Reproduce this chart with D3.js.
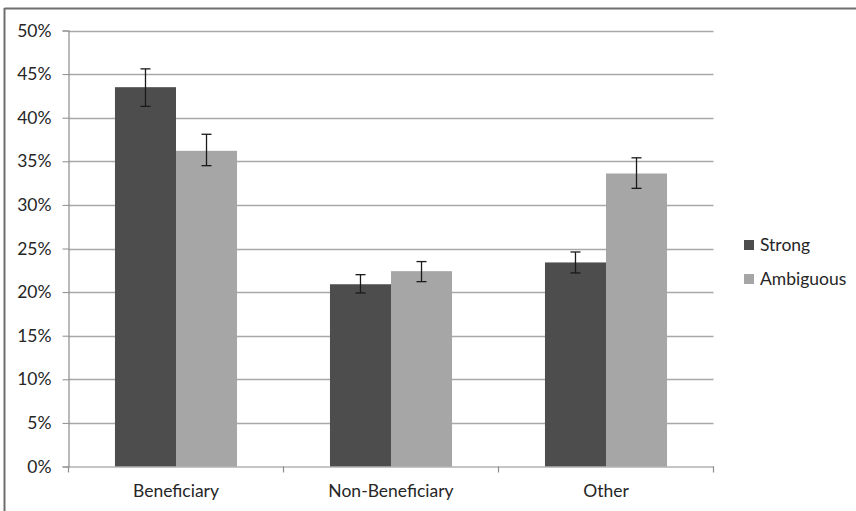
<!DOCTYPE html>
<html><head><meta charset="utf-8">
<script src="https://cdn.jsdelivr.net/npm/d3@7"></script>
<style>
html,body{margin:0;padding:0;background:#fff;}
svg text{font-family:Lato,"Open Sans",sans-serif;fill:#262626;}
</style></head>
<body><svg id="chart" width="856" height="511"></svg>
<script>
const categories = ["Beneficiary", "Non-Beneficiary", "Other"];
const seriesNames = ["Strong", "Ambiguous"];
const strongValues = [43.5, 20.9, 23.4];
const strongLow = [41.3, 19.9, 22.2];
const strongHigh = [45.6, 22.0, 24.6];
const ambiguousValues = [36.2, 22.4, 33.6];
const ambiguousLow = [34.5, 21.2, 31.9];
const ambiguousHigh = [38.1, 23.5, 35.4];
const yTicks = [0, 5, 10, 15, 20, 25, 30, 35, 40, 45, 50];
const colors = ["#4d4d4d", "#a6a6a6"];

(function () {
const svg = d3.select("#chart");
const pLeft = 68.5, pRight = 713.5, pTop = 30.5, pBottom = 466.5;
const fs = 17.5;

// frame
svg.append("line").attr("x1", 4.5).attr("x2", 856).attr("y1", 8.5).attr("y2", 8.5)
  .attr("stroke", "#6e6e6e").attr("stroke-width", 2);
svg.append("line").attr("x1", 4.5).attr("x2", 4.5).attr("y1", 8).attr("y2", 511)
  .attr("stroke", "#6e6e6e").attr("stroke-width", 2);

const x0 = d3.scaleBand().domain(categories).range([pLeft, pRight]).paddingInner(0).paddingOuter(0);
const x1 = d3.scaleBand().domain(seriesNames).range([0, x0.bandwidth()]).paddingInner(0).paddingOuter(0.5 * (214.9 - 122) / 61);
const y = d3.scaleLinear().domain([0, 50]).range([pBottom, pTop]);

// gridlines
svg.append("g").selectAll("line").data(yTicks.filter(d => d > 0)).join("line")
  .attr("x1", pLeft).attr("x2", pRight)
  .attr("y1", d => Math.round(y(d)) + 0.5).attr("y2", d => Math.round(y(d)) + 0.5)
  .attr("stroke", "#a8a8a8").attr("stroke-width", 1.5);

// y axis
const yAxis = svg.append("g").attr("transform", `translate(${pLeft},0)`)
  .call(d3.axisLeft(y).tickValues(yTicks).tickFormat(d => d + "%").tickSize(6).tickPadding(11));
yAxis.select(".domain").attr("stroke", "#8c8c8c").attr("stroke-width", 1.2);
yAxis.selectAll(".tick line").attr("stroke", "#8c8c8c");
yAxis.selectAll(".tick text").attr("font-size", fs).attr("fill", "#262626")
  .style("font-family", "Lato, 'Open Sans', sans-serif");

// bars
const data = categories.map((c, i) => ({
  cat: c,
  vals: [
    {s: "Strong", v: strongValues[i], lo: strongLow[i], hi: strongHigh[i]},
    {s: "Ambiguous", v: ambiguousValues[i], lo: ambiguousLow[i], hi: ambiguousHigh[i]}
  ]
}));
const groups = svg.append("g").selectAll("g").data(data).join("g")
  .attr("transform", d => `translate(${x0(d.cat)},0)`);
groups.selectAll("rect").data(d => d.vals).join("rect")
  .attr("x", d => x1(d.s)).attr("width", x1.bandwidth())
  .attr("y", d => y(d.v)).attr("height", d => y(0) - y(d.v))
  .attr("fill", (d, i) => colors[i]);

// error bars
const eb = groups.selectAll("g.eb").data(d => d.vals).join("g").attr("class", "eb");
const cx = d => x1(d.s) + x1.bandwidth() / 2;
eb.append("line")
  .attr("x1", cx).attr("x2", cx)
  .attr("y1", d => y(d.hi)).attr("y2", d => y(d.lo))
  .attr("stroke", "#1a1a1a").attr("stroke-width", 1.3);
eb.append("line")
  .attr("x1", d => cx(d) - 5).attr("x2", d => cx(d) + 5)
  .attr("y1", d => y(d.hi)).attr("y2", d => y(d.hi))
  .attr("stroke", "#1a1a1a").attr("stroke-width", 1.3);
eb.append("line")
  .attr("x1", d => cx(d) - 5).attr("x2", d => cx(d) + 5)
  .attr("y1", d => y(d.lo)).attr("y2", d => y(d.lo))
  .attr("stroke", "#1a1a1a").attr("stroke-width", 1.3);

// x axis
const xAxis = svg.append("g").attr("transform", `translate(0,${pBottom})`)
  .call(d3.axisBottom(x0).tickSize(0).tickPadding(18));
xAxis.select(".domain").attr("stroke", "#8c8c8c").attr("stroke-width", 1.2);
xAxis.selectAll(".tick text").attr("font-size", fs).attr("fill", "#262626")
  .style("font-family", "Lato, 'Open Sans', sans-serif");
const bounds = [0, 1, 2, 3].map(i => pLeft + i * x0.step());
svg.append("g").selectAll("line").data(bounds).join("line")
  .attr("x1", d => d).attr("x2", d => d).attr("y1", pBottom).attr("y2", pBottom + 6)
  .attr("stroke", "#8c8c8c").attr("stroke-width", 1.2);

// legend
const legend = svg.append("g").attr("transform", "translate(744,240)");
const li = legend.selectAll("g").data(seriesNames).join("g")
  .attr("transform", (d, i) => `translate(0,${i * 34})`);
li.append("rect").attr("width", 10).attr("height", 10).attr("fill", (d, i) => colors[i]);
li.append("text").attr("x", 16).attr("y", 11).attr("font-size", fs).text(d => d);
})();
</script></body></html>
